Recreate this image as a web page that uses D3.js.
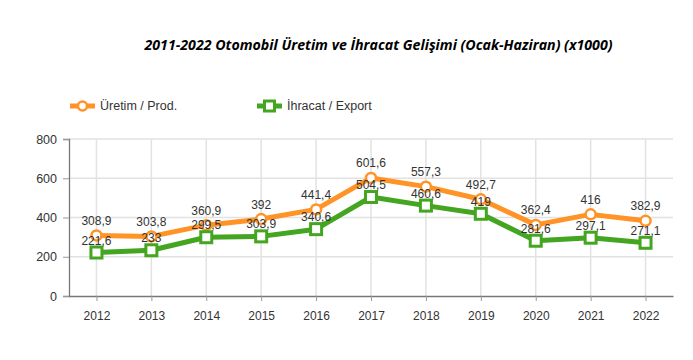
<!DOCTYPE html>
<html><head><meta charset="utf-8">
<script src="https://cdn.jsdelivr.net/npm/d3@7"></script>
<style>body{margin:0;background:#fff}svg{display:block}</style>
</head><body><svg id="c" width="693" height="360"></svg>
<script>
const years = ["2012","2013","2014","2015","2016","2017","2018","2019","2020","2021","2022"];
const production = [308.9,303.8,360.9,392,441.4,601.6,557.3,492.7,362.4,416,382.9];
const exports_ = [221.6,233,299.5,303.9,340.6,504.5,460.6,419,281.6,297.1,271.1];
const yTicks = [0,200,400,600,800];
const seriesNames = ["Üretim / Prod.","İhracat / Export"];
const titleText = "2011-2022 Otomobil Üretim ve İhracat Gelişimi (Ocak-Haziran) (x1000)";

const svg = d3.select("#c");
const L=69,R=673,T=139,B=296;
const x = d3.scalePoint().domain(years).range([L,R]).padding(0.5);
const y = d3.scaleLinear().domain([0,800]).range([B,T]);
const fmt = v => String(v).replace(".",",");
const orange="#FF9326", green="#44A520";

svg.append("text").attr("x",378.5).attr("y",49.5).attr("text-anchor","middle")
  .attr("font-family","Open Sans, sans-serif").attr("font-weight","bold").attr("font-style","italic")
  .attr("font-size",14.2).attr("fill","#000").text(titleText);

// grid
svg.append("g").selectAll("line").data(yTicks.slice(1)).join("line")
  .attr("x1",L).attr("x2",R).attr("y1",d=>y(d)).attr("y2",d=>y(d)).attr("stroke","#e2e2e2").attr("stroke-width",1.5);
svg.append("g").selectAll("line").data(years).join("line")
  .attr("x1",d=>x(d)).attr("x2",d=>x(d)).attr("y1",T).attr("y2",B).attr("stroke","#e2e2e2").attr("stroke-width",1.5);

// axes
const ya = svg.append("g").attr("transform",`translate(${L},0)`).call(d3.axisLeft(y).tickValues(yTicks).tickSize(6).tickPadding(6));
ya.select(".domain").attr("stroke","#777").attr("stroke-width",1.3);
ya.selectAll(".tick line").attr("stroke","#999");
ya.selectAll("text").attr("font-family","Liberation Sans, Arial, sans-serif").attr("font-size",12.5).attr("fill","#333");
const xa = svg.append("g").attr("transform",`translate(0,${B})`).call(d3.axisBottom(x).tickSize(5).tickSizeOuter(0).tickPadding(10));
xa.select(".domain").attr("stroke","#777").attr("stroke-width",1.5);
xa.selectAll(".tick line").attr("stroke","#999");
xa.selectAll("text").attr("font-family","Liberation Sans, Arial, sans-serif").attr("font-size",12).attr("fill","#333");

const line = d3.line().x((d,i)=>x(years[i])).y(d=>y(d));
svg.append("path").datum(production).attr("d",line).attr("fill","none").attr("stroke",orange).attr("stroke-width",5).attr("stroke-linejoin","round");
svg.append("path").datum(exports_).attr("d",line).attr("fill","none").attr("stroke",green).attr("stroke-width",5).attr("stroke-linejoin","round");

svg.append("g").selectAll("circle").data(production).join("circle")
  .attr("cx",(d,i)=>x(years[i])).attr("cy",d=>y(d)).attr("r",5).attr("fill","#fff").attr("stroke",orange).attr("stroke-width",2.5);
svg.append("g").selectAll("rect").data(exports_).join("rect")
  .attr("x",(d,i)=>x(years[i])-5.5).attr("y",d=>y(d)-5.5).attr("width",11).attr("height",11).attr("fill","#fff").attr("stroke",green).attr("stroke-width",3);

const lab = (data, off) => svg.append("g").selectAll("text").data(data).join("text")
  .attr("x",(d,i)=>x(years[i])).attr("y",d=>y(d)-off).attr("text-anchor","middle")
  .attr("font-family","Liberation Sans, Arial, sans-serif").attr("font-size",12).attr("fill","#333").text(fmt);
lab(production, 10.5); lab(exports_, 8);

// legend
const leg = [{n:seriesNames[0],c:orange,t:"c",x:70},{n:seriesNames[1],c:green,t:"s",x:257}];
leg.forEach(l=>{
  const g=svg.append("g");
  g.append("line").attr("x1",l.x).attr("x2",l.x+25).attr("y1",106).attr("y2",106).attr("stroke",l.c).attr("stroke-width",5);
  if(l.t==="c") g.append("circle").attr("cx",l.x+12.5).attr("cy",106).attr("r",4.5).attr("fill","#fff").attr("stroke",l.c).attr("stroke-width",2.5);
  else g.append("rect").attr("x",l.x+7.5).attr("y",101).attr("width",10).attr("height",10).attr("fill","#fff").attr("stroke",l.c).attr("stroke-width",3);
  g.append("text").attr("x",l.x+30).attr("y",110).attr("font-family","Liberation Sans, Arial, sans-serif").attr("font-size",12.5).attr("fill","#333").text(l.n);
});
</script></body></html>
